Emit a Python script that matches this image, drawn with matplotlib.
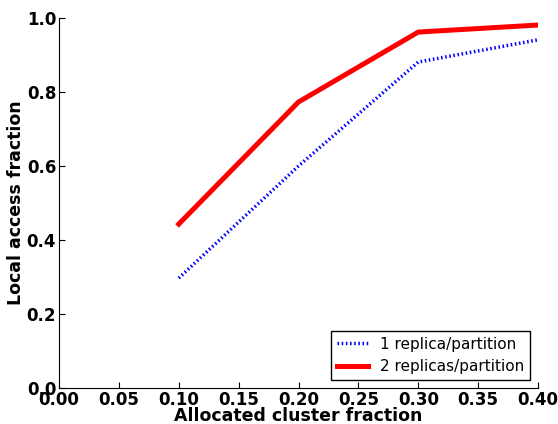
import matplotlib
matplotlib.use("Agg")
import matplotlib.pyplot as plt

alloc = [0.1, 0.2, 0.3, 0.4]
one_replica = [0.297, 0.600, 0.881, 0.941]
two_replicas = [0.443, 0.773, 0.962, 0.981]

fig = plt.figure(figsize=(5.58, 4.24), dpi=100)
ax = fig.add_axes([59/558, 36/424, 479/558, 370/424])

ax.plot(alloc, one_replica, color="blue", linestyle=(0, (0.45, 0.75)), linewidth=2.5, label="1 replica/partition")
ax.plot(alloc, two_replicas, color="red", linestyle="-", linewidth=3.6, label="2 replicas/partition")

ax.set_xlim(0, 0.4)
ax.set_ylim(0, 1.0)
ax.set_xticks([0.0, 0.05, 0.10, 0.15, 0.20, 0.25, 0.30, 0.35, 0.40])
ax.set_yticks([0.0, 0.2, 0.4, 0.6, 0.8, 1.0])
ax.xaxis.set_major_formatter(matplotlib.ticker.FormatStrFormatter("%.2f"))
ax.yaxis.set_major_formatter(matplotlib.ticker.FormatStrFormatter("%.1f"))
ax.spines["top"].set_visible(False)
ax.spines["right"].set_visible(False)
ax.tick_params(direction="in", length=4, pad=2, labelsize=12)
for lab in ax.get_xticklabels() + ax.get_yticklabels():
    lab.set_fontweight("bold")

ax.set_xlabel("Allocated cluster fraction", fontsize=12.5, fontweight="bold", labelpad=-1)
ax.set_ylabel("Local access fraction", fontsize=12.5, fontweight="bold", labelpad=1)

leg = ax.legend(loc="lower right", fontsize=11, fancybox=False, framealpha=1, handlelength=2)
leg.get_frame().set_edgecolor("black")

fig.savefig("out.png", dpi=100)
plt.close(fig)
